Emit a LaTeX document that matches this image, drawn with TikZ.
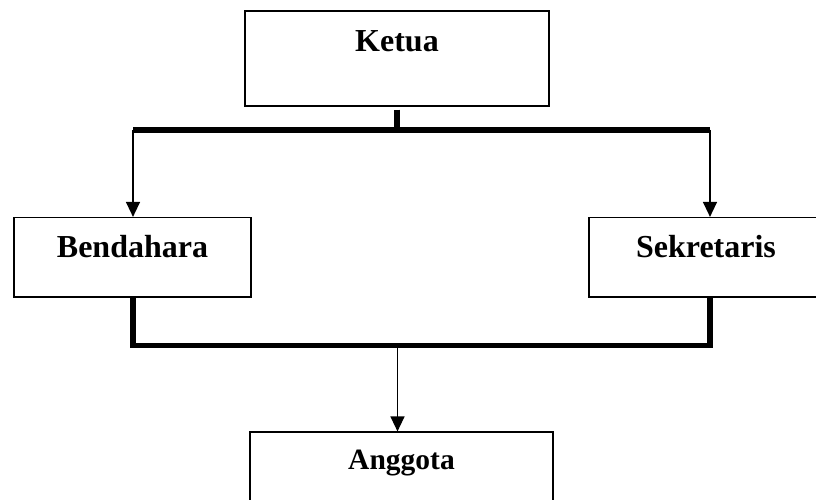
\documentclass[tikz,border=0pt]{standalone}
\usepackage{fontspec}
\setmainfont{Liberation Serif}
\usetikzlibrary{calc,arrows.meta}
\tikzset{
  jabatan/.style={draw, line width=1.2pt, inner sep=0pt},
  nama/.style={anchor=base, inner sep=0pt,
    font=\bfseries\fontsize{32}{36}\selectfont},
  garis/.style={line width=5.5pt, line join=miter},
  panah/.style={line width=1.4pt, -{Triangle[length=15pt,width=14pt]}}
}

\begin{document}
\begin{tikzpicture}[x=1pt,y=-1pt]

\useasboundingbox (0,0) rectangle (816,500);

% Draw the boxes
\node[jabatan, minimum width=304pt, minimum height=95pt]   (ketua)      at (397,58.5)    {};
\node[jabatan, minimum width=237pt, minimum height=79.5pt] (bendahara)  at (132.5,257.25) {};
\node[jabatan, minimum width=234pt, minimum height=79.5pt] (sekretaris) at (706,257.25)  {};
\node[jabatan, minimum width=303pt, minimum height=95pt]   (anggota)    at (401.5,479.5) {};

% Names near the top of each box
\node[nama] (tKetua)      at ($(ketua.north)+(0,41)$)      {Ketua};
\node[nama] (tBendahara)  at ($(bendahara.north)+(0,40.5)$) {Bendahara};
\node[nama] (tSekretaris) at ($(sekretaris.north)+(0,40.5)$) {Sekretaris};
\node[nama, font=\bfseries\fontsize{29.5}{33}\selectfont]
            (tAnggota)    at ($(anggota.north)+(0,38)$)    {Anggota};

% Points of the two bars
\coordinate (atasKiri)    at (133,130);
\coordinate (atasKanan)   at (710,130);
\coordinate (bawahKiri)   at (133,345.5);
\coordinate (bawahKanan)  at (710,345.5);
\coordinate (bawahTengah) at (397.5,345.5);

% Ketua down to Bendahara and Sekretaris
\draw[garis] ([yshift=-3pt]ketua.south) -- (ketua.south |- atasKiri);
\draw[garis] (atasKiri) -- (atasKanan);
\draw[panah] (atasKiri) -- (atasKiri |- bendahara.north);
\draw[panah] (atasKanan) -- (atasKanan |- sekretaris.north);

% Bendahara and Sekretaris down to Anggota
\draw[garis] (bawahKiri |- bendahara.south) -- (bawahKiri) --
             (bawahKanan) -- (bawahKanan |- sekretaris.south);
\draw[panah] (bawahTengah) -- (bawahTengah |- anggota.north);

\end{tikzpicture}
\end{document}
